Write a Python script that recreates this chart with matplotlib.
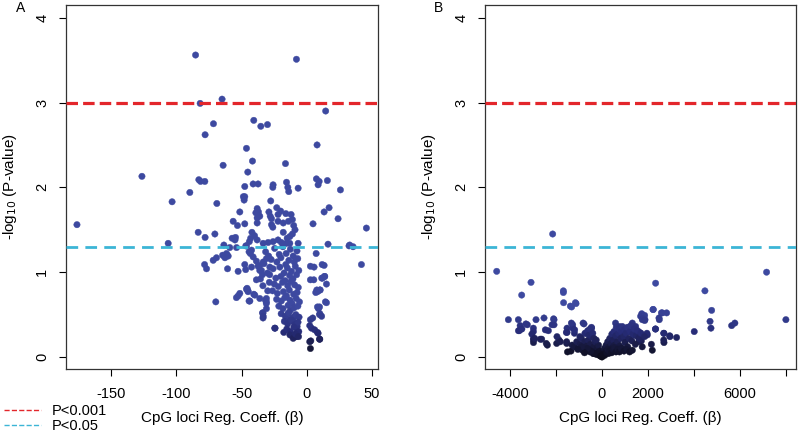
import numpy as np
import matplotlib
matplotlib.use("Agg")
import matplotlib.pyplot as plt
from matplotlib.colors import LinearSegmentedColormap
from matplotlib.lines import Line2D

plt.rcParams['font.family'] = ['Liberation Sans', 'DejaVu Sans']

# panel A: regression coefficient vs -log10(p)
coef_a = [
    -85.2, -7.9, -81.7, -64.9, 14.5, -71.5, -40.6, -35.2, -30.1, -77.9, 7.9, -46.2,
    -64.1, -41.6, -45.2, -16.3, -126.3, -82.7, -81.4, -78.1, -89.6, -103.2, -68.9,
    -176.1, 25.8, 15.8, 7.4, 9.5, 8.7, 45.7, 24.0, 17.1, 13.3, 4.8, 16.3, 32.4, 35.5,
    41.9, -106.2, -83.2, -77.9, -70.4, -69.7, -76.8, -78.3, -71.7, -69.2, -64.5, -61.5,
    -60.2, -60.7, -63.5, -56.4, -53.1, -51.3, -47.5, -48.0, -47.5, -47.5, -41.1, -37.3,
    -57.2, -54.6, -52.6, -46.8, -47.5, -52.6, -51.3, -53.9, -46.2, -45.0, -44.2, -40.6,
    -36.0, -35.5, -38.6, -46.2, -44.2, -43.2, -41.1, -38.6, -37.3, -36.0, -34.0, -31.7,
    -31.0, -33.5, -33.5, -24.3, -17.6, -8.9, 3.1, 2.8, 8.2, 3.6, 2.8, 9.8, 9.8, 9.0,
    7.7, 10.3, 11.5, 13.6, 14.3, 9.8, 2.8, 2.8, 11.8, 7.2,
    -25.8, -26.0, -15.5, -14.5, -13.8, -6.6, -48.6, -27.6, -38.0, -37.0, -39.0, -38.0,
    -36.0, -38.0, -29.0, -28.0, -27.0, -26.0, -27.0,
    -23.0, -20.0, -22.0, -22.0, -16.0, -12.0, -11.0, -14.0, -18.0, -10.0, -9.0, -11.0,
    -13.0, -15.0, -18.0, -42.0, -40.0, -43.0, -44.0, -38.0, -55.0, 32.9,
    -59.0, -53.8, -46.7, -42.3, -33.4, -29.6, -25.8, -22.0, -19.4, -15.6, -13.0, -6.6,
    -62.7, -61.0, -42.3, -36.0, -34.7, -33.4, -30.9, -28.3,
    -45.7, -45.0, -43.6, -39.8, -30.9, -30.9, -30.9, -33.9, -33.4, -24.5,
    5.6, 13.3, 5.4, 12.0, 13.8, 15.1, 10.0, 8.2, 6.9, 15.1, 8.2, 10.1, 11.4, 4.6,
    2.3, 6.1, 8.7, 10.0, 2.3,
    -7.4, -6.1, -7.9, -10.5, -13.0, -9.2, -14.3,
    -31.5, -29.2, -32.8, -30.1, -28.7, -33.6, -29.9,
    # dense cluster
    -24.6, -21.1, -18.3, -15.8, -12.6, -10.4, -7.5,
    -27.3, -22.9, -19.8, -16.1, -13.7, -9.6, -6.9,
    -25.8, -20.6, -17.4, -14.9, -11.7, -8.8, -6.1,
    -28.4, -23.7, -19.9, -16.6, -13.1, -10.6, -7.8,
    -24.9, -21.8, -18.6, -14.6, -12.1, -9.3, -6.5,
    -26.2, -22.5, -17.9, -15.5, -13.4, -10.1, -7.4,
    -23.1, -19.5, -16.8, -12.8, -11.2, -8.1, -5.6,
    -21.4, -18.2, -14.3, -12.5, -9.7, -6.8,
    -19.6, -16.4, -13.9, -10.9, -8.4, -5.9,
    -17.2, -14.6, -11.6, -9.1, -6.7,
    -15.3, -12.7, -9.9, -7.6,
    -12.9, -10.4, -8.6, -6.3,
]
logp_a = [
    3.56, 3.51, 2.99, 3.04, 2.90, 2.75, 2.79, 2.72, 2.74, 2.62, 2.50, 2.46,
    2.26, 2.31, 2.18, 2.28, 2.13, 2.09, 2.07, 2.07, 1.94, 1.83, 1.81,
    1.56, 1.97, 2.08, 2.10, 2.07, 2.03, 1.52, 1.63, 1.76, 1.71, 1.57, 1.33, 1.31, 1.30,
    1.09, 1.34, 1.47, 1.41, 1.45, 0.65, 1.04, 1.09, 1.14, 1.17, 1.20, 1.22,
    1.19, 1.04, 1.32, 1.60, 1.55, 1.71, 1.57, 1.85, 1.89, 2.01, 2.04, 2.04,
    1.40, 1.41, 1.01, 1.03, 1.09, 0.72, 0.75, 0.70, 0.80, 0.78, 0.66, 0.74,
    0.69, 0.92, 0.91, 1.31, 1.24, 1.22, 1.18, 1.13, 1.07, 1.02, 0.97, 0.67,
    0.63, 0.52, 0.46, 0.34, 0.29, 0.24, 0.19, 0.10, 0.29, 0.34, 0.44, 0.21, 0.50, 0.57,
    0.79, 0.79, 0.93, 0.95, 0.65, 0.59, 0.91, 1.07, 1.09, 1.22,
    2.03, 2.00, 2.06, 2.00, 1.95, 1.99, 1.89, 1.84, 1.75, 1.71, 1.70, 1.64,
    1.66, 1.58, 1.71, 1.66, 1.63, 1.53, 1.56,
    1.76, 1.72, 1.68, 1.60, 1.69, 1.68, 1.62, 1.60, 1.58, 1.55, 1.50, 1.45,
    1.42, 1.40, 1.47, 1.47, 1.43, 1.40, 1.36, 1.38, 1.38, 1.32,
    1.29, 1.29, 1.31, 1.26, 1.34, 1.35, 1.36, 1.38, 1.35, 1.34, 1.34, 1.34,
    1.17, 1.20, 1.06, 1.08, 1.02, 1.12, 1.16, 1.06,
    0.81, 0.77, 0.66, 0.73, 0.69, 0.65, 0.57, 0.52, 0.48, 0.34,
    1.06, 1.08, 0.91, 0.93, 0.95, 0.86, 0.79, 0.77, 0.76, 0.64, 0.59, 0.51, 0.48, 0.46,
    0.37, 0.32, 0.28, 0.21, 0.18,
    0.36, 0.30, 0.24, 0.42, 0.44, 0.48, 0.51,
    1.24, 1.19, 1.10, 0.99, 0.88, 0.84, 0.78,
    1.28, 1.21, 1.30, 1.22, 1.27, 1.19, 1.25,
    1.15, 1.12, 1.17, 1.09, 1.14, 1.12, 1.16,
    1.04, 1.06, 0.99, 1.05, 1.01, 1.07, 1.02,
    0.97, 0.93, 0.95, 0.90, 0.96, 0.92, 0.97,
    0.86, 0.83, 0.88, 0.84, 0.89, 0.85, 0.82,
    0.78, 0.75, 0.77, 0.72, 0.79, 0.74, 0.76,
    0.68, 0.66, 0.70, 0.67, 0.63, 0.69, 0.65,
    0.60, 0.57, 0.61, 0.55, 0.58, 0.60,
    0.51, 0.48, 0.52, 0.46, 0.50, 0.47,
    0.42, 0.39, 0.43, 0.38, 0.41,
    0.33, 0.30, 0.35, 0.29,
    0.26, 0.22, 0.27, 0.24,
]

# panel B
coef_b = [
    -2145, -4580, 7160, 8000, -3087, 2333, -3493, -1680, -1680, -1670, -1130, -1320,
    4478, 4770, 4700, 4740, 4013, 5640, 5780, 3246, 2957, 2696, 2696, 2333, 2493,
    2623, 2812, 2232, 1870, 1800, 1730, 1971, 2188,
    -4072, -3638, -3600, -3520, -3246, -2870, -2522, -2985, -2985, -2464, -2333,
    -2087, -2087, -2980, -2980, -2980, -2623, -2377, -1971, -1870, -1536, -1536,
    -1348, -1275, -1275, -1550, -1200, -960, -740, -783, -450,
    -3560, -3633, -3485, -3310, -3050, -2930, -2686, -2424, -2175, -2105, -1957,
    -1812, -1376, -1157, -1520, -1520, -1332, -1188, -822, -459,
    590, 734, 952, 1319, 1463, 1681, 1755, 1170, 1389, 1607, 1026,
    2218, 2585, 2480, 1856, 1782, 1856, 2323, 1956, 2686, 2948, 2686, 2148, 1712,
    1638, 1638,
    # V shaped core
    -1300, -1200, -1100, -1000, -950, -900, -850, -800, -750, -700, -650, -600,
    -580, -520, -500, -450, -420, -380, -350, -300, -280, -240, -200, -170, -150,
    -120, -90, -60, -30, 0, 20, -700, -620, -560, -520, -400, -350, -250, -1500,
    40, 80, 100, 150, 180, 220, 250, 280, 300, 340, 370, 400, 430, 460, 500, 520,
    560, 600, 620, 650, 680, 720, 750, 780, 820, 850, 880, 900, 940, 980, 1000,
    1050, 1100, 1120, 1180, 1220, 1250, 1300, 1350, 1400, 1450, 1500, 1550, 1600,
    1700, 1750, 1850,
    -130, -60, 10, 60, 120, 200, 260, 330, 420, 480, 540, 610, 690, 760, 830, 960,
    1080, 1200, 1320, -330, -480, -640, -760, -880, -1050,
]
logp_b = [
    1.45, 1.01, 1.00, 0.44, 0.88, 0.87, 0.73, 0.78, 0.76, 0.64, 0.63, 0.59,
    0.78, 0.55, 0.42, 0.34, 0.30, 0.37, 0.40, 0.23, 0.24, 0.17, 0.28, 0.33, 0.44,
    0.52, 0.52, 0.56, 0.44, 0.48, 0.51, 0.26, 0.08,
    0.44, 0.44, 0.31, 0.33, 0.38, 0.44, 0.46, 0.34, 0.30, 0.32, 0.31,
    0.44, 0.38, 0.22, 0.20, 0.17, 0.21, 0.14, 0.16, 0.20, 0.16, 0.18,
    0.07, 0.38, 0.34, 0.29, 0.28, 0.24, 0.28, 0.39, 0.34,
    0.37, 0.31, 0.33, 0.39, 0.27, 0.22, 0.21, 0.16, 0.38, 0.45, 0.24,
    0.18, 0.60, 0.64, 0.34, 0.29, 0.40, 0.32, 0.40, 0.35,
    0.40, 0.36, 0.34, 0.40, 0.36, 0.48, 0.44, 0.30, 0.26, 0.18, 0.20,
    0.56, 0.52, 0.46, 0.49, 0.45, 0.43, 0.33, 0.28, 0.28, 0.25, 0.20, 0.15, 0.19,
    0.21, 0.29,
    0.14, 0.12, 0.18, 0.10, 0.15, 0.22, 0.08, 0.12, 0.18, 0.07, 0.13, 0.20,
    0.10, 0.06, 0.15, 0.24, 0.09, 0.04, 0.12, 0.18, 0.06, 0.03, 0.10, 0.05, 0.14,
    0.02, 0.07, 0.03, 0.01, 0.00, 0.02, 0.28, 0.31, 0.26, 0.33, 0.28, 0.22, 0.20, 0.06,
    0.05, 0.03, 0.10, 0.06, 0.14, 0.08, 0.18, 0.04, 0.12, 0.22, 0.08, 0.16, 0.27, 0.11,
    0.20, 0.30, 0.14, 0.25, 0.35, 0.08, 0.18, 0.28, 0.33, 0.13, 0.22, 0.30, 0.36,
    0.10, 0.24, 0.32, 0.17, 0.28, 0.35, 0.12, 0.22, 0.30, 0.37, 0.19, 0.27, 0.33,
    0.15, 0.25, 0.31, 0.22, 0.28, 0.12, 0.24,
    0.04, 0.01, 0.01, 0.03, 0.02, 0.05, 0.09, 0.07, 0.05, 0.09, 0.11, 0.06, 0.09,
    0.06, 0.10, 0.07, 0.09, 0.06, 0.08, 0.04, 0.07, 0.10, 0.05, 0.12, 0.09,
]

thresholds = [3.0, -np.log10(0.05)]
threshold_labels = ['P<0.001', 'P<0.05']
threshold_colors = ['#e3262b', '#3cb5d6']

xticks_a = [-150, -100, -50, 0, 50]
xticks_b = [-4000, -2000, 0, 2000, 4000, 6000, 8000]
xticklabels_b = ['-4000', '', '0', '2000', '', '6000', '']

pcmap = LinearSegmentedColormap.from_list('pv', ['#0c0c18', '#272c78', '#3d49a0'])

fig = plt.figure(figsize=(8, 4.37), dpi=100)
axA = fig.add_axes([0.0825, 0.1556, 0.39, 0.833])
axB = fig.add_axes([0.6063, 0.1556, 0.389, 0.833])


def panel(ax, xs, ys, xlim, letter, lx):
    ax.scatter(xs, ys, c=ys, cmap=pcmap, vmin=0, vmax=0.6, s=21,
               linewidths=0.3, edgecolors='face', zorder=2)
    ax.axhline(thresholds[0], color=threshold_colors[0], lw=2.3,
               dashes=(3.6, 1.6), zorder=3)
    ax.axhline(thresholds[1], color=threshold_colors[1], lw=2.0,
               dashes=(4.2, 2.6), zorder=3)
    ax.set_xlim(*xlim)
    ax.set_ylim(-0.1415, 4.15)
    ax.set_yticks([0, 1, 2, 3, 4])
    ax.tick_params(axis='y', labelrotation=90, length=5, pad=7,
                   labelsize=10.5, width=0.8)
    ax.tick_params(axis='x', length=5, pad=8, labelsize=10.5, width=0.8)
    for lab in ax.get_yticklabels():
        lab.set_va('center')
    for s in ax.spines.values():
        s.set_linewidth(0.9)
        s.set_color('#333333')
    ax.set_ylabel('-log$_{10}$ (P-value)', fontsize=11)
    ax.yaxis.set_label_coords(-0.15, 0.5)
    ax.set_xlabel('CpG loci Reg. Coeff. (β)', fontsize=11)
    ax.xaxis.set_label_coords(0.5, -0.115)
    fig.text(lx, 0.997, letter, fontsize=10, ha='center', va='top')


panel(axA, coef_a, logp_a, (-184.5, 54.6), 'A', 0.026)
axA.set_xticks(xticks_a)
axA.set_xticklabels([str(t) for t in xticks_a])

panel(axB, coef_b, logp_b, (-5087, 8450), 'B', 0.548)
axB.set_xticks(xticks_b)
axB.set_xticklabels(xticklabels_b)

handles = [Line2D([], [], color=c, lw=1.0, ls='--') for c in threshold_colors]
fig.legend(handles, threshold_labels, loc='lower left',
           bbox_to_anchor=(-0.012, -0.02), frameon=False, fontsize=10.5,
           handlelength=2.6, handletextpad=0.7, labelspacing=0.05)

fig.savefig('out.png', dpi=100)
